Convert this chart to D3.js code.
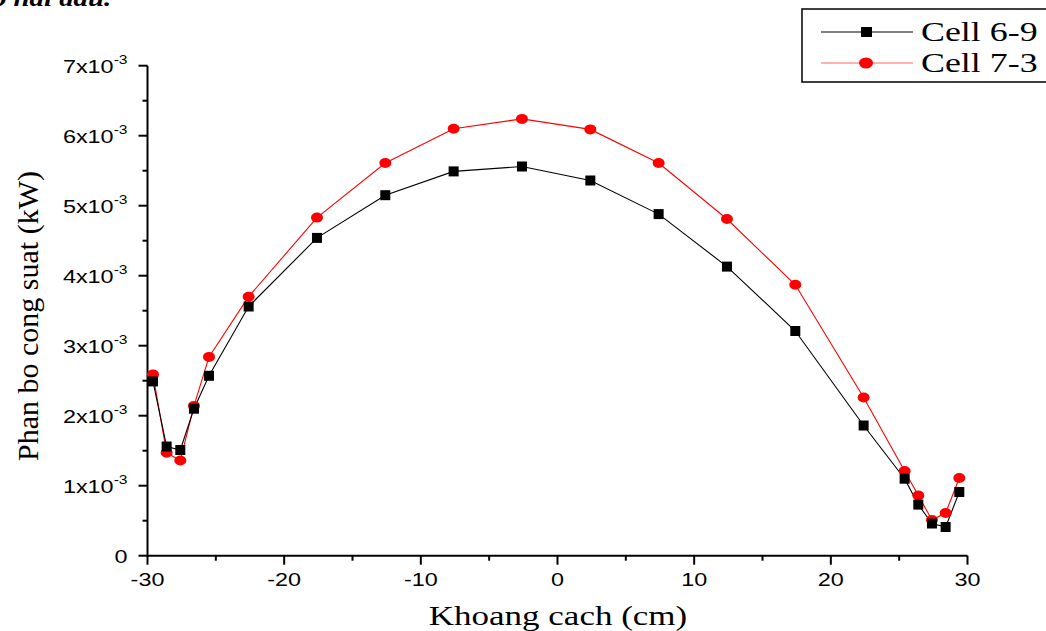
<!DOCTYPE html>
<html><head><meta charset="utf-8">
<script src="https://cdn.jsdelivr.net/npm/d3@7/dist/d3.min.js"></script>
<style>body{margin:0;background:#fff;}svg{display:block;}</style>
</head><body>
<svg id="c" width="1046" height="631"></svg>
<script>
const xs = [-29.6,-28.6,-27.6,-26.6,-25.5,-22.6,-17.6,-12.6,-7.6,-2.6,2.4,7.4,12.4,17.4,22.4,25.4,26.4,27.4,28.4,29.4];
const cell69 = [2.49,1.56,1.51,2.10,2.57,3.56,4.54,5.15,5.49,5.56,5.36,4.88,4.13,3.21,1.86,1.10,0.73,0.46,0.41,0.91];
const cell73 = [2.59,1.47,1.36,2.14,2.84,3.70,4.83,5.61,6.10,6.24,6.09,5.61,4.81,3.87,2.26,1.21,0.86,0.51,0.61,1.11];
const xTicks = [-30,-20,-10,0,10,20,30];
const yTicks = [0,1,2,3,4,5,6,7];
const seriesNames = ["Cell 6-9","Cell 7-3"];

const svg = d3.select("#c");
const x = d3.scaleLinear().domain([-30,30]).range([147.5,967.5]);
const y = d3.scaleLinear().domain([0,7]).range([555.7,65.7]);
const SX = 1.3; // horizontal stretch of the reference's text

// partial caption text at top (cut off in the reference too)
svg.append("text").attr("transform","translate(-8,6) scale(1.2,1)").attr("font-family","Liberation Serif")
  .attr("font-size",24).attr("font-weight","bold").attr("font-style","italic").text("o hai dau.");

const tickFont = "Liberation Sans";
// x axis
const gx = svg.append("g").attr("transform",`translate(0,${y(0)})`);
gx.append("line").attr("x1",x(-30)).attr("x2",x(30)).attr("stroke","#000").attr("stroke-width",2);
d3.range(-30,31,5).forEach(v=>{
  const major = v%10===0;
  gx.append("line").attr("x1",x(v)).attr("x2",x(v)).attr("y1",0).attr("y2",major?9:5)
    .attr("stroke","#000").attr("stroke-width",2);
});
xTicks.forEach(v=>{
  gx.append("text").attr("transform",`translate(${x(v)},30) scale(${SX},1)`).attr("text-anchor","middle")
    .attr("font-family",tickFont).attr("font-size",18).text(v);
});
// y axis
const gy = svg.append("g").attr("transform",`translate(${x(-30)},0)`);
gy.append("line").attr("y1",y(0)).attr("y2",y(7)).attr("stroke","#000").attr("stroke-width",2);
d3.range(0,7.01,0.5).forEach(v=>{
  const major = Math.abs(v-Math.round(v))<1e-6;
  gy.append("line").attr("x1",0).attr("x2",major?-9:-5).attr("y1",y(v)).attr("y2",y(v))
    .attr("stroke","#000").attr("stroke-width",2);
});
yTicks.forEach(v=>{
  const t = gy.append("text").attr("transform",`translate(-20,${y(v)+7}) scale(${SX},1)`).attr("text-anchor","end")
    .attr("font-family",tickFont).attr("font-size",18);
  if(v===0){ t.text("0"); }
  else {
    t.append("tspan").text(v+"x10");
    t.append("tspan").attr("dy",-9).attr("font-size",12).text("-3");
  }
});
// axis titles
svg.append("text").attr("transform",`translate(558,625) scale(1.25,1)`).attr("text-anchor","middle")
  .attr("font-family","Liberation Serif").attr("font-size",28).text("Khoang cach (cm)");
svg.append("text").attr("transform",`translate(38,316) rotate(-90) scale(1.2,1.2)`).attr("text-anchor","middle")
  .attr("font-family","Liberation Serif").attr("font-size",25).text("Phan bo cong suat (kW)");

const line = d3.line().x((d,i)=>x(xs[i])).y(d=>y(d));
svg.append("path").datum(cell73).attr("d",line).attr("fill","none").attr("stroke","#ff0000").attr("stroke-width",1.1);
svg.append("path").datum(cell69).attr("d",line).attr("fill","none").attr("stroke","#000").attr("stroke-width",1.1);
svg.selectAll("ellipse.r").data(cell73).enter().append("ellipse")
  .attr("cx",(d,i)=>x(xs[i])).attr("cy",d=>y(d)).attr("rx",6).attr("ry",5).attr("fill","#ff0000");
svg.selectAll("rect.b").data(cell69).enter().append("rect")
  .attr("x",(d,i)=>x(xs[i])-5).attr("y",d=>y(d)-5).attr("width",10).attr("height",10).attr("fill","#000");

// legend
const lg = svg.append("g");
lg.append("rect").attr("x",802).attr("y",9).attr("width",260).attr("height",73)
  .attr("fill","#fff").attr("stroke","#000").attr("stroke-width",1.5);
[0,1].forEach(i=>{
  const yy = 32 + i*31;
  const col = i===0?"#000":"#ff0000";
  lg.append("line").attr("x1",821).attr("x2",913).attr("y1",yy).attr("y2",yy).attr("stroke",i===0?"#000":"#ff6666").attr("stroke-width",1.2);
  if(i===0) lg.append("rect").attr("x",861).attr("y",yy-5).attr("width",11).attr("height",10).attr("fill",col);
  else lg.append("ellipse").attr("cx",866).attr("cy",yy).attr("rx",7).attr("ry",5.5).attr("fill",col);
  lg.append("text").attr("transform",`translate(921,${yy+9}) scale(1.33,1)`).attr("font-family","Liberation Serif")
    .attr("font-size",27).text(seriesNames[i]);
});
</script>
</body></html>
